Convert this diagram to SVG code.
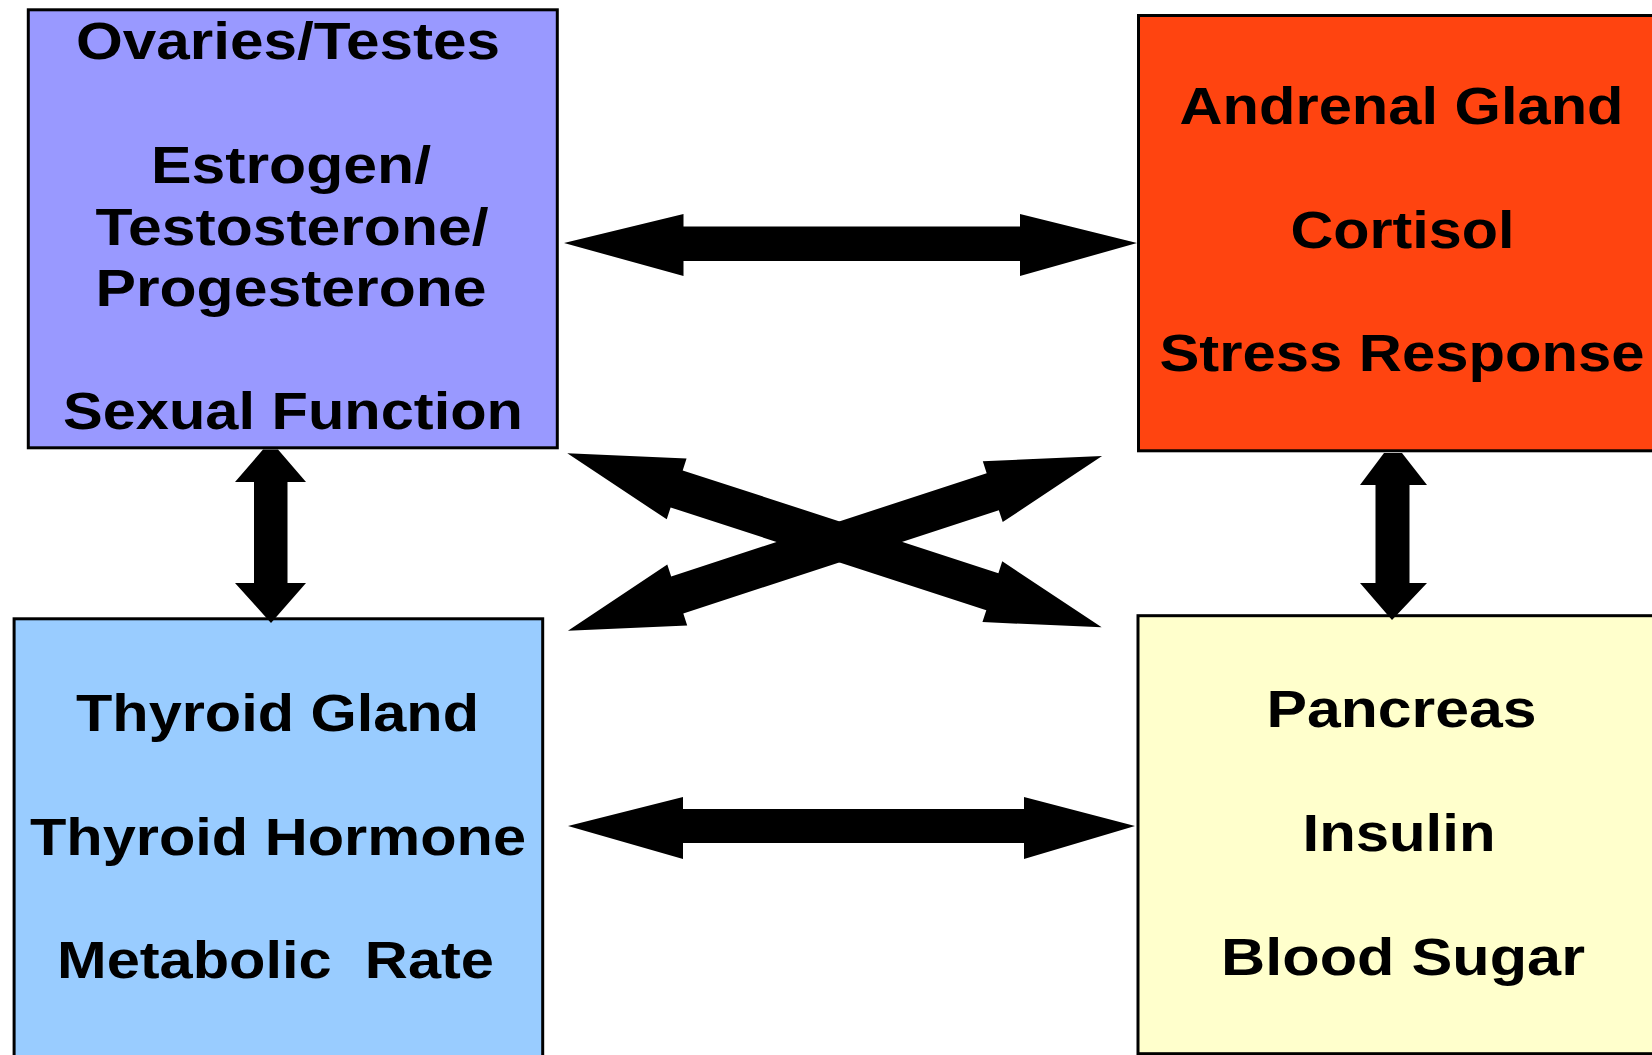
<svg xmlns="http://www.w3.org/2000/svg" width="1652" height="1055" viewBox="0 0 1652 1055">
<style>
.box{stroke:#000;stroke-width:3}
.t{font-family:"Liberation Sans",Arial,sans-serif;font-weight:bold;font-size:51px;fill:#000;text-anchor:middle;white-space:pre}
.arrow{fill:#000;stroke:none}
</style>
<defs>
<polygon id="dbl" points="-281,0 -166,-32 -166,-19.5 166,-19.5 166,-32 281,0 166,32 166,19.5 -166,19.5 -166,32"/>
</defs>
<rect width="1652" height="1055" fill="#fff"/>
<g id="ovaries">
<rect class="box" x="28.3" y="9.8" width="529" height="438" fill="#9999FF"/>
<text class="t" x="288" y="59.3" textLength="424" lengthAdjust="spacingAndGlyphs">Ovaries/Testes</text>
<text class="t" x="291" y="182.7" textLength="280" lengthAdjust="spacingAndGlyphs">Estrogen/</text>
<text class="t" x="292" y="245" textLength="393" lengthAdjust="spacingAndGlyphs">Testosterone/</text>
<text class="t" x="291" y="306" textLength="391" lengthAdjust="spacingAndGlyphs">Progesterone</text>
<text class="t" x="293" y="429" textLength="460" lengthAdjust="spacingAndGlyphs">Sexual Function</text>
</g>
<g id="adrenal">
<rect class="box" x="1138.5" y="15.5" width="600" height="435.3" fill="#FF4410"/>
<text class="t" x="1401.5" y="124.3" textLength="444" lengthAdjust="spacingAndGlyphs">Andrenal Gland</text>
<text class="t" x="1402.5" y="248.3" textLength="224" lengthAdjust="spacingAndGlyphs">Cortisol</text>
<text class="t" x="1402" y="371" textLength="485" lengthAdjust="spacingAndGlyphs">Stress Response</text>
</g>
<g id="thyroid">
<rect class="box" x="14.1" y="618.8" width="528.6" height="500" fill="#99CCFF"/>
<text class="t" x="277.5" y="731" textLength="403" lengthAdjust="spacingAndGlyphs">Thyroid Gland</text>
<text class="t" x="278" y="855" textLength="496" lengthAdjust="spacingAndGlyphs">Thyroid Hormone</text>
<text class="t" x="275.5" y="978" textLength="437" lengthAdjust="spacingAndGlyphs">Metabolic  Rate</text>
</g>
<g id="pancreas">
<rect class="box" x="1138" y="615.7" width="600" height="438" fill="#FFFFCC"/>
<text class="t" x="1401.5" y="726.7" textLength="270" lengthAdjust="spacingAndGlyphs">Pancreas</text>
<text class="t" x="1399" y="850.7" textLength="193" lengthAdjust="spacingAndGlyphs">Insulin</text>
<text class="t" x="1403" y="975" textLength="364" lengthAdjust="spacingAndGlyphs">Blood Sugar</text>
</g>
<g id="connectors">
<polygon class="arrow" points="564,243 683.5,214 683.5,226.5 1020,226.5 1020,214 1137,243 1020,276 1020,261 683.5,261 683.5,276"/>
<polygon class="arrow" points="568,826 683,797 683,809 1024,809 1024,797 1135,826 1024,859 1024,843 683,843 683,859"/>
<polygon class="arrow" points="263,449.5 278,449.5 306,482 287.5,482 287.5,583 306,583 271,623 235,583 254,583 254,482 235,482"/>
<polygon class="arrow" points="1384,453 1402,453 1427,485 1409.5,485 1409.5,583 1427,583 1392,620 1360,583 1375.5,583 1375.5,485 1360,485"/>
<use href="#dbl" class="arrow" transform="translate(834.5,540.3) rotate(18.03)"/>
<use href="#dbl" class="arrow" transform="translate(835,543.35) rotate(-18.13)"/>
</g>
</svg>
